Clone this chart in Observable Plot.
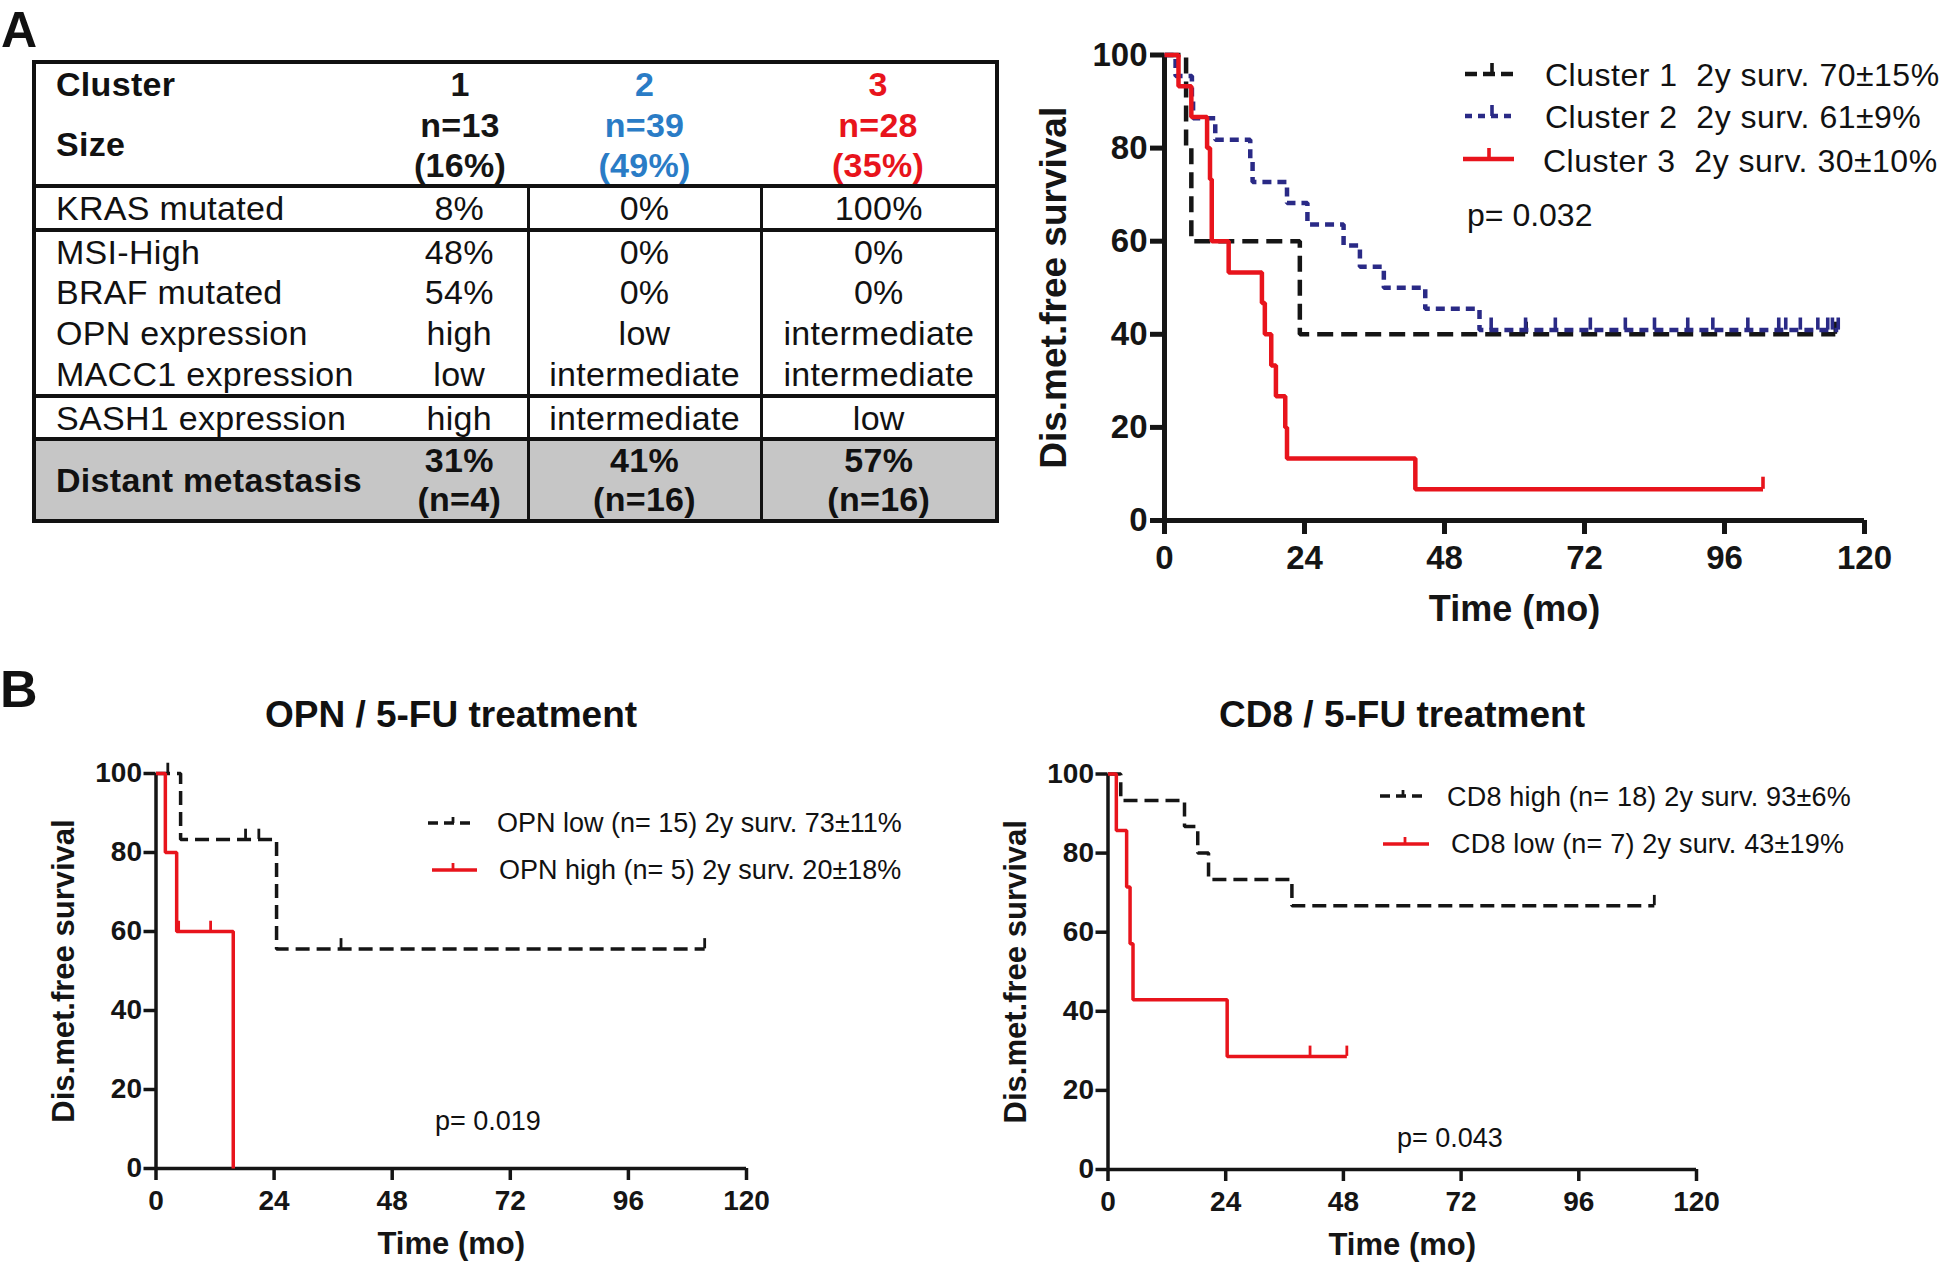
<!DOCTYPE html>
<html><head><meta charset="utf-8">
<script src="https://cdn.jsdelivr.net/npm/d3@7"></script>
<script src="https://cdn.jsdelivr.net/npm/@observablehq/plot@0.6"></script>
<style>
body{margin:0;background:#fff;font-family:"Liberation Sans",Arial,sans-serif;color:#111}
#root{position:relative;width:1946px;height:1264px;overflow:hidden;background:#fff}
.t{position:absolute;line-height:1.15;white-space:pre}
.plot{position:absolute}
#tbl{position:absolute;left:32px;top:60px;border-collapse:collapse;table-layout:fixed;font-size:34px;letter-spacing:0.3px;border:4px solid #111}
#tbl td{padding:0;line-height:1;white-space:nowrap;text-align:center;vertical-align:middle;overflow:visible}
#tbl td.lab{text-align:left;padding-left:20px}
#tbl tr.bb td, #tbl td.bbc{border-bottom:4px solid #111}
#tbl td.vr{border-right:3px solid #111}
#tbl .b{font-weight:bold}
#tbl tr.grey td{background:#c6c6c6}
</style></head>
<body><div id="root"></div>
<script>
// ---------------- data ----------------
const monthTicks = [0, 24, 48, 72, 96, 120];
const survTicks = [0, 20, 40, 60, 80, 100];

// table
const clusterIds = ["1", "2", "3"];
const clusterN = ["n=13", "n=39", "n=28"];
const clusterPct = ["(16%)", "(49%)", "(35%)"];
const rowLabels = ["KRAS mutated", "MSI-High", "BRAF mutated", "OPN expression", "MACC1 expression", "SASH1 expression"];
const rowValues = [
  ["8%", "0%", "100%"],
  ["48%", "0%", "0%"],
  ["54%", "0%", "0%"],
  ["high", "low", "intermediate"],
  ["low", "intermediate", "intermediate"],
  ["high", "intermediate", "low"]
];
const metLabel = "Distant metastasis";
const metPct = ["31%", "41%", "57%"];
const metN = ["(n=4)", "(n=16)", "(n=16)"];

// panel A survival curves
const c1Time = [0, 3.7, 4.6, 23.2, 115];
const c1Surv = [100, 80, 60, 40, 40];
const c1Cens = [62, 115];
const c2Time = [0, 1.9, 4.7, 4.9, 8.7, 14.7, 15.1, 21.0, 24.5, 30.7, 33.5, 37.6, 44.7, 54.0, 115.5];
const c2Surv = [100, 95.5, 90.9, 86.4, 81.8, 77.3, 72.7, 68.2, 63.6, 59.1, 54.5, 50.0, 45.5, 40.9, 40.9];
const c2Cens = [56, 61.9, 67, 73, 79, 84, 89.7, 94, 100, 105.3, 106.5, 109, 112, 113.7, 114.5, 115.5];
const c3Time = [0, 2.4, 4.6, 7.3, 7.8, 8.1, 11.0, 16.7, 17.2, 18.3, 19.1, 20.7, 21.0, 43.0, 102.6];
const c3Surv = [100, 93.3, 86.7, 80, 73.3, 60, 53.3, 46.7, 40, 33.3, 26.7, 20, 13.3, 6.7, 6.7];
const c3Cens = [102.6];

// panel B left: OPN
const opnLowTime = [0, 5.0, 24.5, 111.5];
const opnLowSurv = [100, 83.3, 55.6, 55.6];
const opnLowCens = [2.4, 18.2, 20.9, 37.6, 111.5];
const opnHighTime = [0, 1.9, 4.2, 15.7];
const opnHighSurv = [100, 80, 60, 0];
const opnHighCens = [4.6, 11.1];

// panel B right: CD8
const cd8HighTime = [0, 2.6, 15.6, 18.3, 20.5, 37.5, 111.4];
const cd8HighSurv = [100, 93.3, 86.7, 80, 73.3, 66.7, 66.7];
const cd8HighCens = [111.4];
const cd8LowTime = [0, 1.7, 3.8, 4.5, 5.1, 24.3, 48.7];
const cd8LowSurv = [100, 85.7, 71.4, 57.1, 42.9, 28.6, 28.6];
const cd8LowCens = [41.2, 48.7];

// text
const legendA = ["Cluster 1  2y surv. 70±15%", "Cluster 2  2y surv. 61±9%", "Cluster 3  2y surv. 30±10%"];
const legendOPN = ["OPN low (n= 15) 2y surv. 73±11%", "OPN high (n= 5) 2y surv. 20±18%"];
const legendCD8 = ["CD8 high (n= 18) 2y surv. 93±6%", "CD8 low (n= 7) 2y surv. 43±19%"];
const pValues = ["p= 0.032", "p= 0.019", "p= 0.043"];
const titles = ["OPN / 5-FU treatment", "CD8 / 5-FU treatment"];
const yLabel = "Dis.met.free survival";
const xLabel = "Time (mo)";

// ---------------- styles ----------------
const BLACK = "#151515", NAVY = "#2a2a86", RED = "#e8141c", BLUE_TXT = "#2a7cc6";
const FONT = "Liberation Sans, Arial, sans-serif";

const root = document.getElementById("root");

function addText(txt, x, y, size, opts = {}) {
  const d = document.createElement("div");
  d.className = "t";
  d.textContent = txt;
  d.style.left = x + "px";
  d.style.top = y + "px";
  d.style.fontSize = size + "px";
  if (opts.bold) d.style.fontWeight = "bold";
  if (opts.color) d.style.color = opts.color;
  if (opts.ls) d.style.letterSpacing = opts.ls + "px";
  d.style.transform = opts.center ? "translate(-50%,-50%)" : "translate(0,-50%)";
  root.appendChild(d);
}

function addSwatch(x1, x2, y, tx, th, color, dash, w) {
  const ns = "http://www.w3.org/2000/svg";
  const svg = document.createElementNS(ns, "svg");
  const pad = 20;
  svg.setAttribute("width", x2 - x1 + 2 * pad);
  svg.setAttribute("height", 2 * pad);
  svg.style.position = "absolute";
  svg.style.left = (x1 - pad) + "px";
  svg.style.top = (y - pad) + "px";
  const l = document.createElementNS(ns, "line");
  l.setAttribute("x1", pad); l.setAttribute("x2", x2 - x1 + pad);
  l.setAttribute("y1", pad); l.setAttribute("y2", pad);
  l.setAttribute("stroke", color); l.setAttribute("stroke-width", w);
  if (dash) l.setAttribute("stroke-dasharray", dash);
  svg.appendChild(l);
  const t = document.createElementNS(ns, "line");
  t.setAttribute("x1", tx - x1 + pad); t.setAttribute("x2", tx - x1 + pad);
  t.setAttribute("y1", pad); t.setAttribute("y2", pad - th);
  t.setAttribute("stroke", color); t.setAttribute("stroke-width", w * 0.8);
  svg.appendChild(t);
  root.appendChild(svg);
}

// ---------------- panel letters ----------------
addText("A", 1, 31, 50, {bold: true});
addText("B", 0, 690, 52, {bold: true});

// ---------------- table ----------------
(function buildTable() {
  const colColors = [BLACK, BLUE_TXT, RED];
  let h = '<colgroup><col style="width:358px"><col style="width:136px"><col style="width:233px"><col style="width:236px"></colgroup>';
  h += '<tr style="height:42px"><td class="lab b">Cluster</td>' +
    clusterIds.map((c, i) => `<td class="b" style="color:${colColors[i]}">${c}</td>`).join("") + '</tr>';
  h += '<tr style="height:42px"><td class="lab b bbc" rowspan="2">Size</td>' +
    clusterN.map((c, i) => `<td class="b" style="color:${colColors[i]}">${c}</td>`).join("") + '</tr>';
  h += '<tr class="bb" style="height:40px">' +
    clusterPct.map((c, i) => `<td class="b" style="color:${colColors[i]}">${c}</td>`).join("") + '</tr>';
  const groupEnd = [true, false, false, false, true, true];
  const heights = [44, 41, 41, 42, 42, 43];
  rowLabels.forEach((lab, r) => {
    h += `<tr class="${groupEnd[r] ? "bb" : ""}" style="height:${heights[r]}px"><td class="lab">${lab}</td>` +
      rowValues[r].map((v, i) => `<td class="${i < 2 ? "vr" : ""}">${v}</td>`).join("") + '</tr>';
  });
  h += `<tr class="grey" style="height:82px"><td class="lab b">${metLabel}</td>` +
    metPct.map((v, i) => `<td class="b ${i < 2 ? "vr" : ""}" style="line-height:1.15">${v}<br>${metN[i]}</td>`).join("") + '</tr>';
  const t = document.createElement("table");
  t.id = "tbl";
  t.innerHTML = h;
  root.appendChild(t);
})();

// ---------------- KM plots ----------------
function lookup(times, survs, t) {
  let s = survs[0];
  for (let i = 0; i < times.length; i++) if (times[i] <= t) s = survs[i];
  return s;
}

function kmPlot(cfg) {
  const marks = [
    Plot.axisX({ticks: monthTicks, tickSize: cfg.tickSize, tickPadding: cfg.padX, fontSize: cfg.tickFont,
      fontWeight: "bold", strokeWidth: cfg.axisW, label: null}),
    Plot.axisY({ticks: survTicks, tickSize: cfg.tickSize, tickPadding: cfg.padY, fontSize: cfg.tickFont,
      fontWeight: "bold", strokeWidth: cfg.axisW, label: null}),
    Plot.ruleY([0], {stroke: BLACK, strokeWidth: cfg.axisW}),
    Plot.ruleX([0], {stroke: BLACK, strokeWidth: cfg.axisW})
  ];
  cfg.series.forEach(s => {
    const pts = s.time.map((t, i) => ({t, v: s.surv[i]}));
    marks.push(Plot.line(pts, {x: "t", y: "v", curve: "step-after", stroke: s.color, strokeWidth: s.width,
      strokeDasharray: s.dash, strokeLinecap: "butt", strokeLinejoin: "miter"}));
    const cens = s.cens.map(t => ({t, v: lookup(s.time, s.surv, t)}));
    marks.push(Plot.ruleX(cens, {x: "t", y1: "v", y2: d => d.v + cfg.censH, stroke: s.color, strokeWidth: s.width * 0.8}));
  });
  marks.push(Plot.text([yLabel], {text: d => d, frameAnchor: "left", rotate: -90, dx: -cfg.yLabOff,
    lineAnchor: "top", textAnchor: "middle", fontSize: cfg.yLabFont, fontWeight: "bold", fill: BLACK}));
  marks.push(Plot.text([xLabel], {text: d => d, frameAnchor: "bottom", dy: cfg.xLabOff,
    lineAnchor: "bottom", textAnchor: "middle", fontSize: cfg.xLabFont, fontWeight: "bold", fill: BLACK}));
  const svg = Plot.plot({
    width: cfg.width, height: cfg.height,
    marginLeft: cfg.ml, marginRight: cfg.mr, marginTop: cfg.mt, marginBottom: cfg.mb,
    x: {domain: [0, 120]}, y: {domain: [0, 100]},
    style: {fontFamily: FONT, background: "transparent", overflow: "visible", color: BLACK},
    marks
  });
  const wrap = document.createElement("div");
  wrap.className = "plot";
  wrap.style.left = cfg.left + "px";
  wrap.style.top = cfg.top + "px";
  wrap.appendChild(svg);
  root.appendChild(wrap);
}

// Panel A plot
kmPlot({
  left: 1000, top: 30, width: 940, height: 610, ml: 164, mr: 76, mt: 24.5, mb: 120,
  tickSize: 14, padX: 11, padY: 3, tickFont: 33, axisW: 5, censH: 2.6,
  yLabOff: 125, yLabFont: 37, xLabOff: 100, xLabFont: 36,
  series: [
    {time: c1Time, surv: c1Surv, cens: c1Cens, color: BLACK, dash: "16,8", width: 4.5},
    {time: c2Time, surv: c2Surv, cens: c2Cens, color: NAVY, dash: "9,6", width: 4.5},
    {time: c3Time, surv: c3Surv, cens: c3Cens, color: RED, dash: null, width: 4.5}
  ]
});

// Panel B left
kmPlot({
  left: 0, top: 700, width: 800, height: 564, ml: 155.5, mr: 54, mt: 73, mb: 96,
  tickSize: 12, padX: 10, padY: 2, tickFont: 28, axisW: 3.5, censH: 2.6,
  yLabOff: 104, yLabFont: 31, xLabOff: 85, xLabFont: 31,
  series: [
    {time: opnLowTime, surv: opnLowSurv, cens: opnLowCens, color: BLACK, dash: "14,7", width: 3.5},
    {time: opnHighTime, surv: opnHighSurv, cens: opnHighCens, color: RED, dash: null, width: 3.5}
  ]
});

// Panel B right
kmPlot({
  left: 960, top: 700, width: 800, height: 564, ml: 147.5, mr: 64, mt: 73.5, mb: 95,
  tickSize: 12, padX: 10, padY: 2, tickFont: 28, axisW: 3.5, censH: 2.6,
  yLabOff: 104, yLabFont: 31, xLabOff: 85, xLabFont: 31,
  series: [
    {time: cd8HighTime, surv: cd8HighSurv, cens: cd8HighCens, color: BLACK, dash: "14,7", width: 3.5},
    {time: cd8LowTime, surv: cd8LowSurv, cens: cd8LowCens, color: RED, dash: null, width: 3.5}
  ]
});

// ---------------- legends, titles, p-values ----------------
addSwatch(1465, 1517, 74, 1492, 11, BLACK, "12,6", 4.5);
addSwatch(1465, 1517, 116, 1492, 11, NAVY, "7,6", 4.5);
addSwatch(1463, 1514, 159, 1489, 11, RED, null, 4.5);
addText(legendA[0], 1545, 75, 32, {ls: 0.5});
addText(legendA[1], 1545, 117, 32, {ls: 0.5});
addText(legendA[2], 1543, 161, 32, {ls: 0.5});
addText(pValues[0], 1467, 215, 32);

addText(titles[0], 451, 715, 37, {bold: true, center: true});
addText(titles[1], 1402, 715, 37, {bold: true, center: true});

addSwatch(428, 473, 823, 453, 6, BLACK, "10,6", 3.5);
addSwatch(432, 477, 870, 453, 7, RED, null, 3.5);
addText(legendOPN[0], 497, 824, 27);
addText(legendOPN[1], 499, 871, 27);
addText(pValues[1], 435, 1122, 27);

addSwatch(1380, 1424, 796, 1403, 6, BLACK, "10,6", 3.5);
addSwatch(1383, 1429, 844, 1405, 7, RED, null, 3.5);
addText(legendCD8[0], 1447, 798, 27, {ls: 0.2});
addText(legendCD8[1], 1451, 845, 27, {ls: 0.2});
addText(pValues[2], 1397, 1139, 27);
</script></body></html>
